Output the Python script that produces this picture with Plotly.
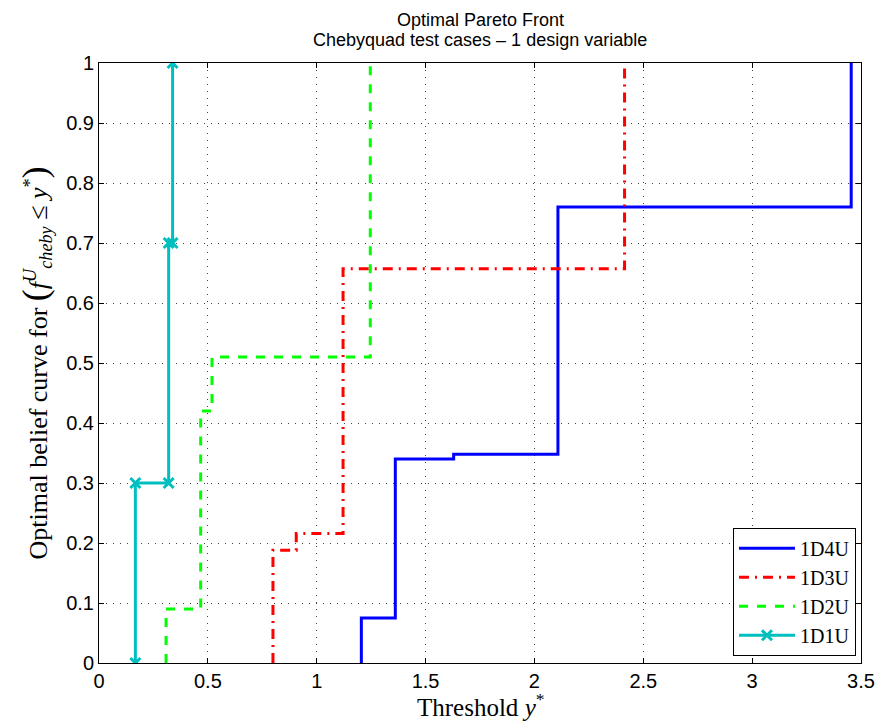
import plotly.graph_objects as go

# Step-wise optimal belief curves (threshold vs belief) for each test case
x_1d4u = [1.205, 1.205, 1.361, 1.361, 1.629, 1.629, 2.108, 2.108, 3.455, 3.455]
y_1d4u = [0.0, 0.075, 0.075, 0.34, 0.34, 0.348, 0.348, 0.76, 0.76, 1.0]

x_1d3u = [0.799, 0.799, 0.906, 0.906, 1.121, 1.121, 2.414, 2.414]
y_1d3u = [0.0, 0.188, 0.188, 0.216, 0.216, 0.657, 0.657, 1.0]

x_1d2u = [0.308, 0.308, 0.467, 0.467, 0.519, 0.519, 1.246, 1.246]
y_1d2u = [0.0, 0.09, 0.09, 0.42, 0.42, 0.51, 0.51, 1.0]

x_1d1u = [0.167, 0.167, 0.32, 0.32, 0.338, 0.338]
y_1d1u = [0.0, 0.3, 0.3, 0.7, 0.7, 1.0]

x_ticks = [0, 0.5, 1, 1.5, 2, 2.5, 3, 3.5]
x_tick_text = ["0", "0.5", "1", "1.5", "2", "2.5", "3", "3.5"]
y_ticks = [0, 0.1, 0.2, 0.3, 0.4, 0.5, 0.6, 0.7, 0.8, 0.9, 1]
y_tick_text = ["0", "0.1", "0.2", "0.3", "0.4", "0.5", "0.6", "0.7", "0.8", "0.9", "1"]

title_lines = ["Optimal Pareto Front", "Chebyquad test cases \u2013 1 design variable"]

SANS = "Liberation Sans, Arial, sans-serif"
SERIF = "Liberation Serif, Times New Roman, serif"

fig = go.Figure()
fig.add_trace(go.Scatter(x=x_1d4u, y=y_1d4u, mode="lines", name="1D4U",
                         line=dict(color="#0000FF", width=3)))
fig.add_trace(go.Scatter(x=x_1d3u, y=y_1d3u, mode="lines", name="1D3U",
                         line=dict(color="#FF0000", width=3, dash="10px,6px,2px,6px")))
fig.add_trace(go.Scatter(x=x_1d2u, y=y_1d2u, mode="lines", name="1D2U",
                         line=dict(color="#00FF00", width=3, dash="9px,9px")))
fig.add_trace(go.Scatter(x=x_1d1u, y=y_1d1u, mode="lines+markers", name="1D1U",
                         line=dict(color="#00BFBF", width=3),
                         marker=dict(symbol="x-thin", size=10,
                                     line=dict(color="#00BFBF", width=3))))

axis_common = dict(
    showline=True, linecolor="black", linewidth=1, mirror="allticks",
    ticks="inside", ticklen=5, tickcolor="black", tickwidth=1,
    showgrid=True, gridcolor="#444444", griddash="1px,6px", gridwidth=1,
    zeroline=False, automargin=False,
    tickfont=dict(family=SANS, size=20, color="black"),
)

ytitle = ("Optimal belief curve for <span style='font-size:36px'>(</span>"
          "<i>f</i><sup><i>U</i></sup><sub><i>cheby</i></sub> \u2264 <i>y</i><sup>*</sup>"
          "<span style='font-size:36px'>)</span>")

fig.update_layout(
    width=880, height=725,
    margin=dict(l=99, r=19, t=63, b=62),
    paper_bgcolor="white", plot_bgcolor="white",
    xaxis=dict(range=[0, 3.5], tickvals=x_ticks, ticktext=x_tick_text, **axis_common),
    yaxis=dict(range=[0, 1], tickvals=y_ticks, ticktext=y_tick_text,
               title=dict(text=ytitle,
                          font=dict(family=SERIF, size=26, color="black"), standoff=11),
               **axis_common),
    legend=dict(x=0.9934, y=0.012, xanchor="right", yanchor="bottom",
                bgcolor="white", bordercolor="black", borderwidth=1,
                font=dict(family=SERIF, size=20, color="black"),
                tracegroupgap=0, itemwidth=56),
    showlegend=True,
)

# Two-line title, one annotation per line
for line, ypos in zip(title_lines, [1.0717, 1.0383]):
    fig.add_annotation(text=line, xref="paper", yref="paper", x=0.5, y=ypos,
                       xanchor="center", yanchor="middle", showarrow=False,
                       font=dict(family=SANS, size=18, color="black"))

# x-axis label under the tick labels
fig.add_annotation(text="Threshold <i>y</i><sup>*</sup>", xref="paper", yref="paper",
                   x=0.5, y=-0.07, xanchor="center", yanchor="middle", showarrow=False,
                   font=dict(family=SERIF, size=25, color="black"))

fig.write_html("out.html")
